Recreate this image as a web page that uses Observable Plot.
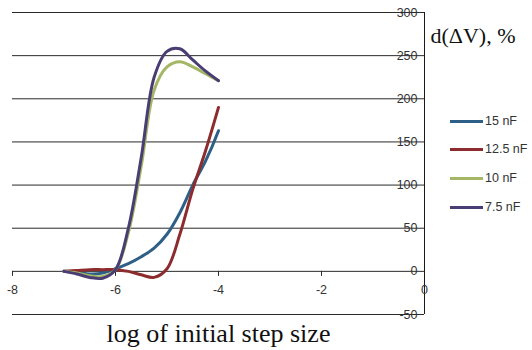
<!DOCTYPE html>
<html>
<head>
<meta charset="utf-8">
<script src="https://cdn.jsdelivr.net/npm/d3@7"></script>
<script src="https://cdn.jsdelivr.net/npm/@observablehq/plot@0.6"></script>
<style>
  html, body { margin: 0; padding: 0; background: #fff; }
  #wrap { position: relative; width: 532px; height: 350px; }
  .leg { position: absolute; left: 450px; font: 12.5px "Liberation Sans", Arial, sans-serif; color: #333; display: flex; align-items: center; }
  .leg span.sw { display: inline-block; width: 33px; height: 3px; margin-right: 2px; }
</style>
</head>
<body>
<div id="wrap"></div>
<script>
// Data
const xs = [-7, -6.75, -6.5, -6.25, -6, -5.75, -5.5, -5.25, -5, -4.75, -4.5, -4.25, -4];
const series = ["15 nF", "12.5 nF", "10 nF", "7.5 nF"];
const colors = ["#2e5f86", "#8c2c2e", "#a3b764", "#4a3d74"];
const v15  = [0, -1, -3, -2, 3, 9, 17, 27, 43, 68, 100, 128, 163];
const v125 = [0, 1, 2, 2, 2, 0, -4, -7, 3, 43, 95, 140, 190];
const v10  = [0, -2, -5, -6, 2, 45, 122, 210, 237, 243, 237, 229, 221];
const v75  = [0, -3, -7, -8, 2, 50, 132, 225, 255, 258, 245, 232, 221];
const xTicks = [-8, -6, -4, -2, 0];
const yTicks = [-50, 0, 50, 100, 150, 200, 250, 300];
const yTitle = "d(\u0394V), %";
const xTitle = "log of initial step size";

const allValues = [v15, v125, v10, v75];
const rows = [];
series.forEach((s, i) => xs.forEach((x, j) => rows.push({series: s, x, y: allValues[i][j]})));

const sans = "'Liberation Sans', Arial, sans-serif";
const serif = "'Liberation Serif', 'Times New Roman', serif";

const chart = Plot.plot({
  width: 532,
  height: 350,
  marginLeft: 12,
  marginRight: 108,
  marginTop: 12,
  marginBottom: 36,
  x: {domain: [-8, 0], axis: null},
  y: {domain: [-50, 300], axis: null},
  color: {domain: series, range: colors},
  style: {fontFamily: sans, background: "#fff", overflow: "visible"},
  marks: [
    Plot.ruleY(yTicks, {y: d => d, stroke: "#2a2a2a", strokeWidth: 1}),
    Plot.ruleX([0], {x: d => d, stroke: "#1a1a1a", strokeWidth: 1}),
    Plot.ruleX(xTicks.filter(d => d !== 0), {x: d => d, y1: 0, y2: 0, insetBottom: -5, stroke: "#2a2a2a"}),
    Plot.line(rows, {x: "x", y: "y", z: "series", stroke: "series", strokeWidth: 3, curve: "catmull-rom"}),
    Plot.text(xTicks, {x: d => d, y: 0, text: d => String(d), dy: 19, fontSize: 12.5, fill: "#333"}),
    Plot.text(yTicks, {x: 0, y: d => d, text: d => String(d), textAnchor: "end", dx: -7, fontSize: 12.5, fill: "#333"}),
    Plot.text([xTitle], {text: d => d, frameAnchor: "bottom", lineAnchor: "middle", dy: 19, fontFamily: serif, fontSize: 26, fill: "#111"}),
    Plot.text([yTitle], {text: d => d, frameAnchor: "top-right", lineAnchor: "middle", textAnchor: "start", dx: 6, dy: 23, fontFamily: serif, fontSize: 22, fill: "#111"})
  ]
});
const wrap = document.getElementById("wrap");
wrap.appendChild(chart);

const legTops = [121, 149, 178, 207];
series.forEach((s, i) => {
  const d = document.createElement("div");
  d.className = "leg";
  d.style.top = (legTops[i] - 8) + "px";
  d.style.height = "16px";
  d.innerHTML = `<span class="sw" style="background:${colors[i]}"></span><span>${s}</span>`;
  wrap.appendChild(d);
});
</script>
</body>
</html>
